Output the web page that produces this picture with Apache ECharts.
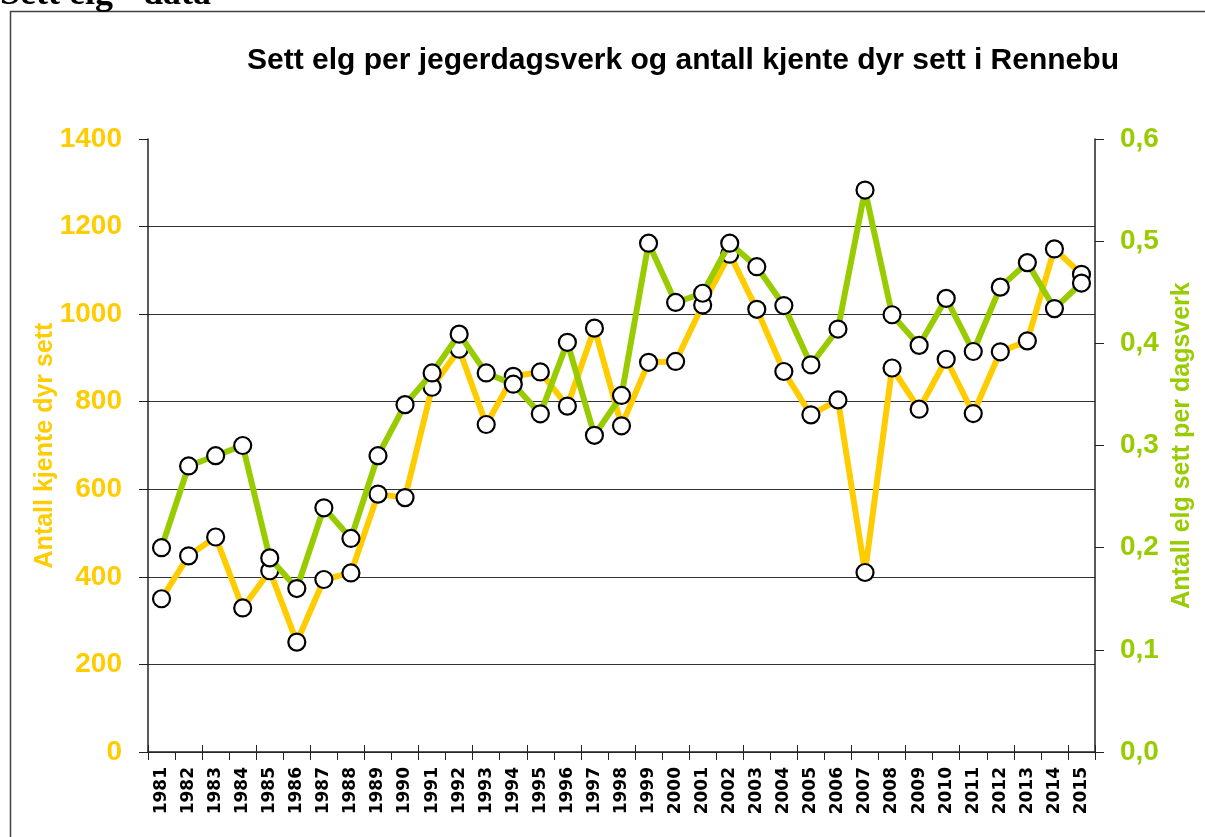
<!DOCTYPE html>
<html>
<head>
<meta charset="utf-8">
<script src="https://cdn.jsdelivr.net/npm/echarts@6/dist/echarts.min.js"></script>
<style>
  html, body { margin: 0; padding: 0; background: #fff; }
  #chart { width: 1205px; height: 837px; }
</style>
</head>
<body>
<div id="chart"></div>
<script>
const years = ['1981','1982','1983','1984','1985','1986','1987','1988','1989','1990',
  '1991','1992','1993','1994','1995','1996','1997','1998','1999','2000',
  '2001','2002','2003','2004','2005','2006','2007','2008','2009','2010',
  '2011','2012','2013','2014','2015']
// antall kjente dyr sett (venstre akse)
const kjenteDyr = [350, 448, 491, 329, 414, 251, 394, 409, 589, 581,
  833, 920, 748, 858, 868, 790, 968, 745, 890, 892,
  1021, 1137, 1011, 869, 770, 804, 410, 877, 783, 897,
  773, 914, 939, 1149, 1091]
// sett elg per dagsverk (høyre akse)
const elgPerDagsverk = [0.200, 0.280, 0.290, 0.300, 0.190, 0.160, 0.239, 0.209, 0.290, 0.340,
  0.371, 0.409, 0.371, 0.360, 0.331, 0.401, 0.310, 0.349, 0.498, 0.440,
  0.449, 0.498, 0.475, 0.437, 0.379, 0.414, 0.550, 0.428, 0.398, 0.444,
  0.392, 0.455, 0.479, 0.434, 0.459]

const yellow = '#FFCC00'
const green = '#99CC00'

const chart = echarts.init(document.getElementById('chart'))
chart.setOption({
  animation: false,
  textStyle: { fontFamily: 'Liberation Sans, Arial, sans-serif' },
  graphic: [
    {
      type: 'rect',
      shape: { x: 10.5, y: 11.5, width: 1400, height: 1000 },
      style: { fill: 'none', stroke: '#404040', lineWidth: 1.5 },
      silent: true
    },
    {
      type: 'text',
      left: 0,
      top: -23,
      style: {
        text: 'Sett elg - data',
        font: 'bold 36px "Liberation Serif", "Times New Roman", serif',
        fill: '#000'
      }
    }
  ],
  title: {
    text: 'Sett elg per jegerdagsverk og antall kjente dyr sett i Rennebu',
    left: 678,
    textAlign: 'center',
    top: 41,
    textStyle: { fontSize: 30, fontWeight: 'bold', color: '#000' }
  },
  grid: { left: 148, right: 110, top: 139, bottom: 85 },
  xAxis: [
    {
      type: 'category',
      data: years,
      boundaryGap: true,
      axisLine: { lineStyle: { color: '#222', width: 1.5 } },
      axisTick: { show: true, length: 8, lineStyle: { color: '#222' } },
      axisLabel: {
        rotate: 90, color: '#000', fontWeight: 'bold', fontSize: 17, margin: 15,
        fontFamily: 'DejaVu Sans, sans-serif'
      },
      splitLine: { show: false }
    },
    {
      type: 'category',
      data: years,
      position: 'bottom',
      boundaryGap: true,
      axisLine: { show: false },
      axisTick: { show: true, inside: true, length: 7, lineStyle: { color: '#222' } },
      axisLabel: { show: false }
    }
  ],
  yAxis: [
    {
      type: 'value',
      min: 0, max: 1400, interval: 200,
      name: 'Antall kjente dyr sett',
      nameLocation: 'middle',
      nameGap: 90,
      nameMoveOverlap: false,
      nameTextStyle: { color: yellow, fontSize: 25, fontWeight: 'bold' },
      axisLine: { show: true, lineStyle: { color: '#222', width: 1.5 } },
      axisTick: { show: true, length: 9, lineStyle: { color: '#222' } },
      axisLabel: { color: yellow, fontSize: 28, fontWeight: 'bold', margin: 26, formatter: v => String(v) },
      splitLine: { show: true, showMaxLine: false, lineStyle: { color: '#333', width: 1.2 } }
    },
    {
      type: 'value',
      min: 0, max: 0.6, interval: 0.1,
      position: 'right',
      name: 'Antall elg sett per dagsverk',
      nameLocation: 'middle',
      nameGap: 65,
      nameTextStyle: { color: green, fontSize: 25, fontWeight: 'bold' },
      axisLine: { show: true, lineStyle: { color: '#222', width: 1.5 } },
      axisTick: { show: true, length: 9, lineStyle: { color: '#222' } },
      axisLabel: {
        color: green, fontSize: 28, fontWeight: 'bold', margin: 25,
        formatter: v => v.toFixed(1).replace('.', ',')
      },
      splitLine: { show: false }
    }
  ],
  series: [
    {
      name: 'Antall kjente dyr sett',
      type: 'line',
      yAxisIndex: 0,
      data: kjenteDyr,
      symbol: 'circle',
      symbolSize: 17,
      lineStyle: { color: yellow, width: 6 },
      itemStyle: { color: '#fff', borderColor: '#000', borderWidth: 2.2 },
      z: 2
    },
    {
      name: 'Antall elg sett per dagsverk',
      type: 'line',
      yAxisIndex: 1,
      data: elgPerDagsverk,
      symbol: 'circle',
      symbolSize: 17,
      lineStyle: { color: green, width: 6 },
      itemStyle: { color: '#fff', borderColor: '#000', borderWidth: 2.2 },
      z: 3
    }
  ]
})
</script>
</body>
</html>
